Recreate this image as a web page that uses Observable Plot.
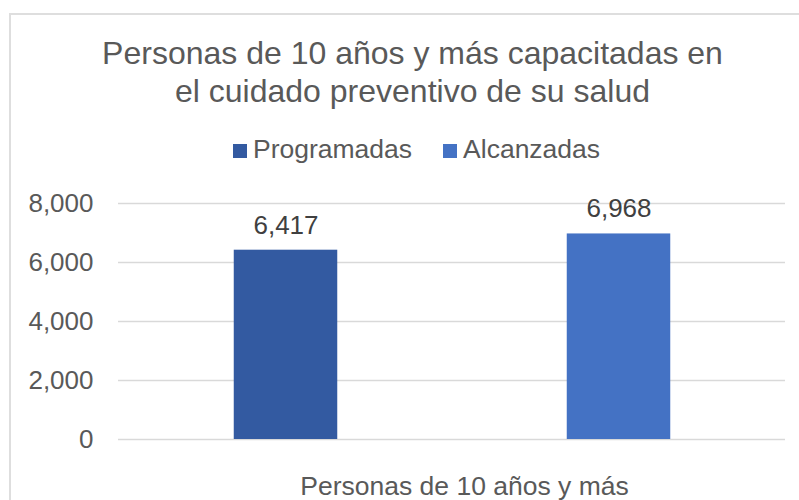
<!DOCTYPE html>
<html>
<head>
<meta charset="utf-8">
<script src="https://cdn.jsdelivr.net/npm/d3@7"></script>
<script src="https://cdn.jsdelivr.net/npm/@observablehq/plot@0.6"></script>
<style>
  html, body { margin: 0; padding: 0; background: #fff; overflow: hidden; }
  #wrap { position: relative; width: 799px; height: 500px; overflow: hidden;
          font-family: "Liberation Sans", Arial, sans-serif; color: #595959; }
  #box { position: absolute; left: 9px; top: 13px; width: 820px; height: 520px;
         border: 2px solid #dedede; box-sizing: border-box; }
  #title { position: absolute; left: 10px; width: 805px; top: 34px; text-align: center;
           font-size: 32px; line-height: 38px; white-space: nowrap; }
  #legend { position: absolute; left: 233px; top: 134px; font-size: 26.5px; line-height: 30px;
            white-space: nowrap; }
  #legend .item { display: inline-block; margin-right: 31px; }
  #legend .sw { display: inline-block; width: 14px; height: 14px; margin-right: 6px; vertical-align: baseline; }
  #chart { position: absolute; left: 0; top: 180px; }
</style>
</head>
<body>
<div id="wrap">
  <div id="box"></div>
  <div id="title">Personas de 10 años y más capacitadas en<br>el cuidado preventivo de su salud</div>
  <div id="legend"></div>
  <div id="chart"></div>
</div>
<script>
const titleLines = ["Personas de 10 años y más capacitadas en", "el cuidado preventivo de su salud"];
const series = ["Programadas", "Alcanzadas"];
const values = [6417, 6968];
const colors = ["#335AA1", "#4472C4"];
const yTicks = [0, 2000, 4000, 6000, 8000];
const xLabel = "Personas de 10 años y más";

const data = series.map((s, i) => ({serie: s, valor: values[i]}));

// title
document.getElementById("title").innerHTML = titleLines.join("<br>");

// legend
const legend = document.getElementById("legend");
series.forEach((s, i) => {
  const item = document.createElement("span");
  item.className = "item";
  const sw = document.createElement("span");
  sw.className = "sw";
  sw.style.background = colors[i];
  item.appendChild(sw);
  item.appendChild(document.createTextNode(s));
  legend.appendChild(item);
});

const fmt = d3.format(",");
const font = "Liberation Sans, Arial, sans-serif";

const chart = Plot.plot({
  width: 799,
  height: 320,
  marginTop: 23,
  marginBottom: 61,
  marginLeft: 118,
  marginRight: 14,
  style: {fontFamily: font, fontSize: "26px", color: "#595959", background: "transparent", overflow: "visible"},
  x: {type: "band", domain: series, padding: 0, axis: null},
  y: {domain: [0, 8000], axis: null},
  color: {domain: series, range: colors},
  marks: [
    Plot.ruleY(yTicks, {stroke: "#d9d9d9", strokeWidth: 1.5}),
    Plot.axisY({ticks: yTicks, tickSize: 0, tickPadding: 25, tickFormat: fmt, label: null, fontSize: 26, fill: "#595959"}),
    Plot.barY(data, {x: "serie", y: "valor", fill: "serie", insetLeft: 114.75, insetRight: 114.75}),
    Plot.text(data, {x: "serie", y: "valor", text: d => fmt(d.valor), dy: -25, fill: "#404040", fontSize: 26, lineAnchor: "middle"}),
    Plot.text([xLabel], {frameAnchor: "bottom", text: d => d, dx: 12.5, dy: 47, fill: "#595959", fontSize: 26.5, lineAnchor: "middle"})
  ]
});
document.getElementById("chart").appendChild(chart);
</script>
</body>
</html>
